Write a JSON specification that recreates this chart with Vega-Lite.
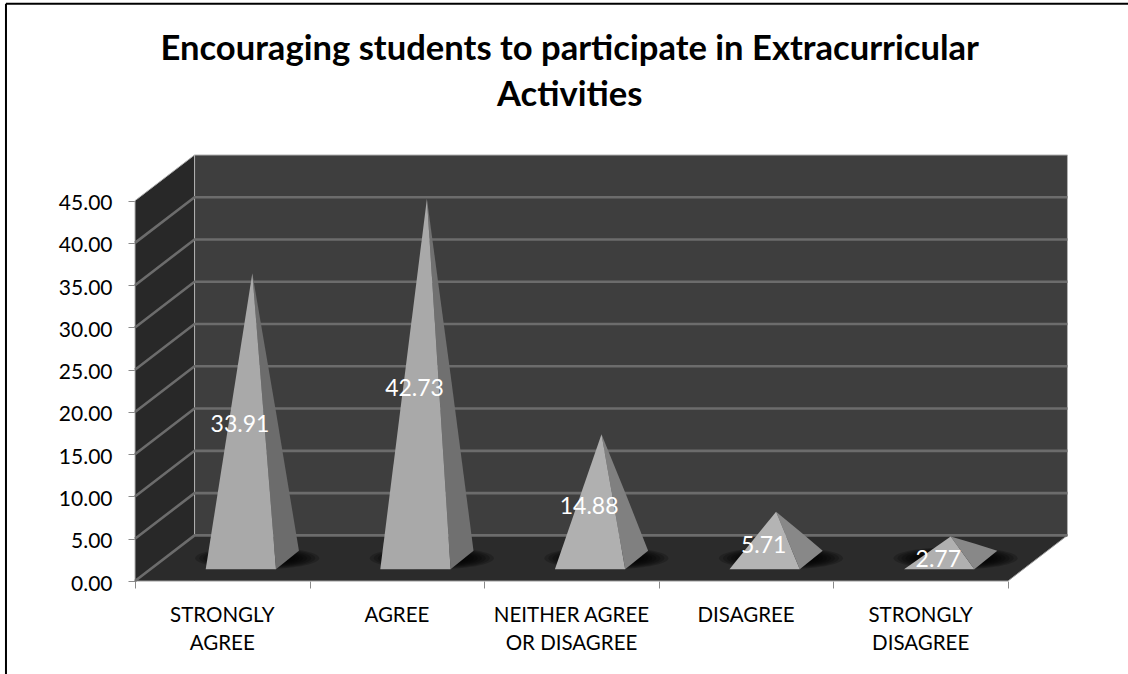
{
"$schema":"https://vega.github.io/schema/vega-lite/v6.json",
"width":933,"height":426,
"autosize":{"type":"none"},
"padding":{"left":135,"top":155,"right":60,"bottom":93},
"background":"white",
"config":{"view":{"stroke":null},"font":"Lato","text":{"font":"Lato"}},
"encoding":{
"x":{"field":"x","type":"quantitative","scale":{"domain":[0,5.344],"nice":false,"zero":false},"axis":{"values":[0,1,2,3,4,5],"labels":false,"title":null,"grid":false,"domain":false,"tickColor":"#8a8a8a","tickSize":7}},
"y":{"field":"y","type":"quantitative","stack":null,"scale":{"domain":[0,50.4],"nice":false,"zero":false},"axis":{"values":[0,5,10,15,20,25,30,35,40,45],"format":".2f","title":null,"grid":false,"domain":false,"tickColor":"#8a8a8a","tickSize":7,"labelFont":"Lato","labelFontSize":21,"labelColor":"black","labelPadding":16,"labelOffset":3}}
},
"layer":[
{"data":{"values":[{"x":0.341,"y":50.4,"y0":5.4},{"x":5.341,"y":50.4,"y0":5.4}]},"mark":{"type":"area","color":"#3e3e3e","stroke":"#b0b0b0","strokeWidth":1},"encoding":{"y2":{"field":"y0"}}},
{"data":{"values":[{"x":0,"y":45,"y0":0},{"x":0.341,"y":50.4,"y0":5.4}]},"mark":{"type":"area","color":"#282828","stroke":"#b0b0b0","strokeWidth":1},"encoding":{"y2":{"field":"y0"}}},
{"data":{"values":[{"x":0,"y":0,"y0":0},{"x":0.341,"y":5.4,"y0":0},{"x":5,"y":5.4,"y0":0},{"x":5.341,"y":5.4,"y0":5.4}]},"mark":{"type":"area","color":"#2b2b2b","stroke":"#9a9a9a","strokeWidth":1},"encoding":{"y2":{"field":"y0"}}},
{"data":{"values":[
{"g":0,"x":0,"y":0},{"g":0,"x":0.341,"y":5.4},{"g":0,"x":5.341,"y":5.4},
{"g":5,"x":0,"y":5},{"g":5,"x":0.341,"y":10.4},{"g":5,"x":5.341,"y":10.4},
{"g":10,"x":0,"y":10},{"g":10,"x":0.341,"y":15.4},{"g":10,"x":5.341,"y":15.4},
{"g":15,"x":0,"y":15},{"g":15,"x":0.341,"y":20.4},{"g":15,"x":5.341,"y":20.4},
{"g":20,"x":0,"y":20},{"g":20,"x":0.341,"y":25.4},{"g":20,"x":5.341,"y":25.4},
{"g":25,"x":0,"y":25},{"g":25,"x":0.341,"y":30.4},{"g":25,"x":5.341,"y":30.4},
{"g":30,"x":0,"y":30},{"g":30,"x":0.341,"y":35.4},{"g":30,"x":5.341,"y":35.4},
{"g":35,"x":0,"y":35},{"g":35,"x":0.341,"y":40.4},{"g":35,"x":5.341,"y":40.4},
{"g":40,"x":0,"y":40},{"g":40,"x":0.341,"y":45.4},{"g":40,"x":5.341,"y":45.4}
]},"mark":{"type":"line","color":"#6c6c6c","strokeWidth":2.6},"encoding":{"detail":{"field":"g"}}},
{"data":{"values":[
{"band":1,"x":0.7,"y":2.7},{"band":2,"x":0.7,"y":2.7},{"band":3,"x":0.7,"y":2.7},{"band":4,"x":0.7,"y":2.7},{"band":5,"x":0.7,"y":2.7},{"band":6,"x":0.7,"y":2.7},{"band":7,"x":0.7,"y":2.7},{"band":8,"x":0.7,"y":2.7},
{"band":1,"x":1.7,"y":2.7},{"band":2,"x":1.7,"y":2.7},{"band":3,"x":1.7,"y":2.7},{"band":4,"x":1.7,"y":2.7},{"band":5,"x":1.7,"y":2.7},{"band":6,"x":1.7,"y":2.7},{"band":7,"x":1.7,"y":2.7},{"band":8,"x":1.7,"y":2.7},
{"band":1,"x":2.7,"y":2.7},{"band":2,"x":2.7,"y":2.7},{"band":3,"x":2.7,"y":2.7},{"band":4,"x":2.7,"y":2.7},{"band":5,"x":2.7,"y":2.7},{"band":6,"x":2.7,"y":2.7},{"band":7,"x":2.7,"y":2.7},{"band":8,"x":2.7,"y":2.7},
{"band":1,"x":3.7,"y":2.7},{"band":2,"x":3.7,"y":2.7},{"band":3,"x":3.7,"y":2.7},{"band":4,"x":3.7,"y":2.7},{"band":5,"x":3.7,"y":2.7},{"band":6,"x":3.7,"y":2.7},{"band":7,"x":3.7,"y":2.7},{"band":8,"x":3.7,"y":2.7},
{"band":1,"x":4.7,"y":2.7},{"band":2,"x":4.7,"y":2.7},{"band":3,"x":4.7,"y":2.7},{"band":4,"x":4.7,"y":2.7},{"band":5,"x":4.7,"y":2.7},{"band":6,"x":4.7,"y":2.7},{"band":7,"x":4.7,"y":2.7},{"band":8,"x":4.7,"y":2.7}
]},"mark":{"type":"point","filled":true,"color":"black","opacity":0.2,"strokeWidth":0,"shape":"M-1,0A1,0.18,0,1,1,1,0A1,0.18,0,1,1,-1,0Z"},"encoding":{"size":{"field":"band","type":"ordinal","legend":null,"scale":{"type":"ordinal","domain":[1,2,3,4,5,6,7,8],"range":[15376,13456,11664,10000,8464,7056,5776,4624]}}}},
{"data":{"values":[
{"part":"a-side","x":0.672,"y":36.40,"y0":36.40},{"part":"a-side","x":0.8076,"y":20.00,"y0":1.39},{"part":"a-side","x":0.939,"y":3.59,"y0":3.59},
{"part":"b-side","x":1.672,"y":45.22,"y0":45.22},{"part":"b-side","x":1.8076,"y":24.41,"y0":1.39},{"part":"b-side","x":1.939,"y":3.59,"y0":3.59},
{"part":"c-side","x":2.672,"y":17.37,"y0":17.37},{"part":"c-side","x":2.8076,"y":10.48,"y0":1.39},{"part":"c-side","x":2.939,"y":3.59,"y0":3.59},
{"part":"d-side","x":3.672,"y":8.20,"y0":8.20},{"part":"d-side","x":3.8076,"y":5.90,"y0":1.39},{"part":"d-side","x":3.939,"y":3.59,"y0":3.59},
{"part":"e-side","x":4.672,"y":5.26,"y0":5.26},{"part":"e-side","x":4.8076,"y":4.43,"y0":1.39},{"part":"e-side","x":4.939,"y":3.59,"y0":3.59},
{"part":"a-front","x":0.405,"y":1.39,"y0":1.39},{"part":"a-front","x":0.672,"y":36.40,"y0":1.39},{"part":"a-front","x":0.8076,"y":1.39,"y0":1.39},
{"part":"b-front","x":1.405,"y":1.39,"y0":1.39},{"part":"b-front","x":1.672,"y":45.22,"y0":1.39},{"part":"b-front","x":1.8076,"y":1.39,"y0":1.39},
{"part":"c-front","x":2.405,"y":1.39,"y0":1.39},{"part":"c-front","x":2.672,"y":17.37,"y0":1.39},{"part":"c-front","x":2.8076,"y":1.39,"y0":1.39},
{"part":"d-front","x":3.405,"y":1.39,"y0":1.39},{"part":"d-front","x":3.672,"y":8.20,"y0":1.39},{"part":"d-front","x":3.8076,"y":1.39,"y0":1.39},
{"part":"e-front","x":4.405,"y":1.39,"y0":1.39},{"part":"e-front","x":4.672,"y":5.26,"y0":1.39},{"part":"e-front","x":4.8076,"y":1.39,"y0":1.39}
]},"mark":{"type":"area"},"encoding":{"y2":{"field":"y0"},"color":{"field":"part","type":"nominal","legend":null,"sort":null,"scale":{"domain":["a-side","b-side","c-side","d-side","e-side","a-front","b-front","c-front","d-front","e-front"],"range":["#6c6c6c","#707070","#808080","#888888","#888888","#a9a9a9","#a9a9a9","#b0b0b0","#b4b4b4","#b0b0b0"]}}}},
{"data":{"values":[
{"category":"STRONGLY AGREE","value":33.91,"x":0.601,"y":18.4},
{"category":"AGREE","value":42.73,"x":1.601,"y":22.7},
{"category":"NEITHER AGREE OR DISAGREE","value":14.88,"x":2.601,"y":8.8},
{"category":"DISAGREE","value":5.71,"x":3.601,"y":4.2},
{"category":"STRONGLY DISAGREE","value":2.77,"x":4.601,"y":2.5}
]},"mark":{"type":"text","color":"white","font":"Lato","fontSize":23,"align":"center","baseline":"middle"},"encoding":{"text":{"field":"value","type":"quantitative","format":".2f"}}},
{"data":{"values":[
{"label":"STRONGLY\nAGREE","x":0.5,"y":0},
{"label":"AGREE","x":1.5,"y":0},
{"label":"NEITHER AGREE\nOR DISAGREE","x":2.5,"y":0},
{"label":"DISAGREE","x":3.5,"y":0},
{"label":"STRONGLY\nDISAGREE","x":4.5,"y":0}
]},"mark":{"type":"text","color":"black","font":"Lato","fontSize":20.5,"align":"center","baseline":"top","lineBreak":"\n","lineHeight":28.5,"dy":24.5},"encoding":{"text":{"field":"label"}}},
{"data":{"values":[{"label":"Encouraging students to participate in Extracurricular\nActivities","x":2.49,"y":64.8}]},"mark":{"type":"text","color":"black","font":"Lato","fontWeight":"bold","fontSize":34.6,"align":"center","baseline":"top","lineBreak":"\n","lineHeight":46},"encoding":{"text":{"field":"label"}}},
{"data":{"values":[{"x":-0.739,"y":68.3,"y0":-11}]},"mark":{"type":"rule","color":"black","strokeWidth":2},"encoding":{"y2":{"field":"y0"}}},
{"data":{"values":[{"x":-0.739,"x1":5.7,"y":68.3}]},"mark":{"type":"rule","color":"black","strokeWidth":2},"encoding":{"x2":{"field":"x1"}}}
]
}
